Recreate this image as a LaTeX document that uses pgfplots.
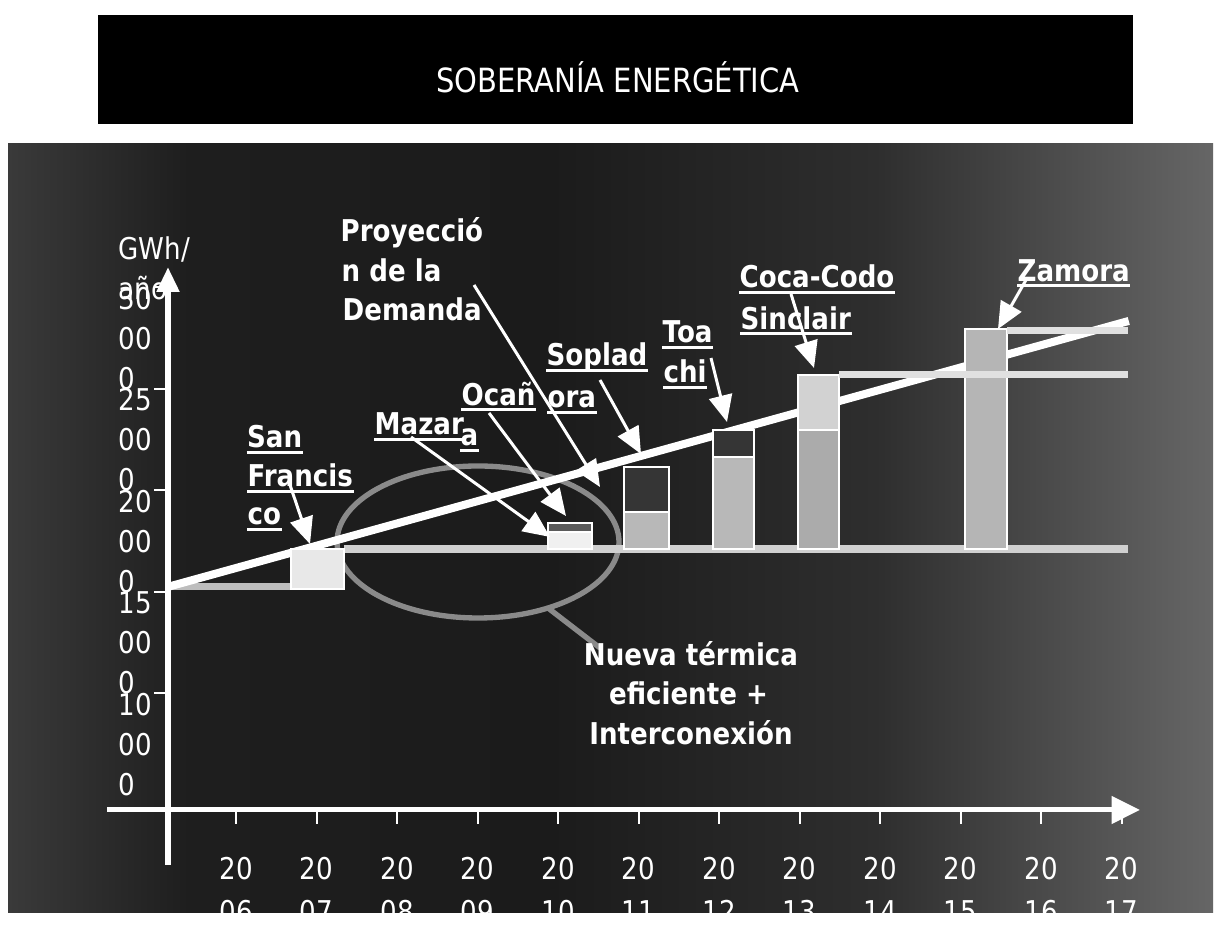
\documentclass[border=0pt]{standalone}
\usepackage{fontspec}
\setmainfont{DejaVu Sans}[FakeStretch=0.87]
\usepackage{pgfplots}
\pgfplotsset{compat=1.18}
\usetikzlibrary{arrows.meta}

\definecolor{pA}{HTML}{3A3A3A}
\definecolor{pB}{HTML}{1E1E1E}
\definecolor{pC}{HTML}{1B1B1B}
\definecolor{pD}{HTML}{2E2E2E}
\definecolor{pE}{HTML}{666666}
\definecolor{bandA}{HTML}{BDBDBD}
\definecolor{bandB}{HTML}{D0D0D0}
\definecolor{bandC}{HTML}{E0E0E0}
\definecolor{ellgray}{HTML}{8A8A8A}
\definecolor{sfcol}{HTML}{E8E8E8}
\definecolor{mzcol}{HTML}{F0F0F0}
\definecolor{occol}{HTML}{5A5A5A}
\definecolor{lowcol}{HTML}{B8B8B8}
\definecolor{darkcol}{HTML}{353535}
\definecolor{cclow}{HTML}{ABABAB}
\definecolor{cctop}{HTML}{D2D2D2}
\definecolor{zacol}{HTML}{B5B5B5}

\pgfdeclarehorizontalshading{panelsh}{100bp}{color(0bp)=(pA); color(25bp)=(pA); color(32.5bp)=(pB); color(47.5bp)=(pC); color(61bp)=(pD); color(75bp)=(pE); color(100bp)=(pE)}

\newcommand{\reg}{\fontsize{9}{12}\selectfont}
\newcommand{\lbl}{\fontsize{9}{12}\selectfont\bfseries}
\newcommand{\titlefont}{\fontsize{10}{12}\selectfont}

\tikzset{lab/.style={text=white, font=\lbl, inner sep=0pt},
  arw/.style={white, line width=0.9pt, -{Triangle[length=8pt,width=7pt]}}}
\newcommand{\ul}[3]{\node[lab, anchor=base west] (u) at (#1,#2) {#3};
  \draw[white, line width=0.9pt] ([yshift=-1.3pt]u.base west) -- ([yshift=-1.3pt]u.base east);}

\begin{document}
\begin{tikzpicture}
\begin{scope}[x=0.3pt,y=-0.3pt]
\path[use as bounding box] (0,0) rectangle (1216,926);
\fill[white] (0,0) rectangle (1216,926);
\fill[black] (98,15) rectangle (1133,124);
\node[text=white, font=\titlefont, anchor=base, inner sep=0pt] at (618,93) {SOBERANÍA ENERGÉTICA};
\shade[shading=panelsh] (8,144) rectangle (1213,913);
\draw[ellgray, line width=1.6pt] (478,542) ellipse [x radius=141, y radius=76];
\draw[ellgray, line width=1.6pt] (548,608) -- (600,648);
\end{scope}

\begin{axis}[
  at={(50.4pt,-243pt)}, anchor=south west,
  scale only axis, width=290.88pt, height=156.75pt,
  xmin=2005.155, xmax=2017.2, ymin=4236, ymax=30000,
  clip=false,
  axis line style={draw=none},
  xtick={2006,2007,2008,2009,2010,2011,2012,2013,2014,2015,2016,2017},
  xticklabels={20\\06,20\\07,20\\08,20\\09,20\\10,20\\11,20\\12,20\\13,20\\14,20\\15,20\\16,20\\17},
  ytick={10000,15000,20000,25000,30000},
  yticklabels={10\\00\\0,15\\00\\0,20\\00\\0,25\\00\\0,30\\00\\0},
  scaled ticks=false,
  xtick pos=left, ytick pos=left,
  tick align=outside, major tick length=4.2pt,
  tick style={white, line width=0.6pt},
  xticklabel style={anchor=north, align=center, inner sep=0pt, text=white, font=\fontsize{9}{12.9}\selectfont, yshift=-9.9pt},
  yticklabel style={anchor=north west, align=left, inner sep=0pt, text=white, font=\reg, xshift=-10.8pt, yshift=0.3pt},
]
% existing supply bands
\addplot[draw=bandA, line width=2.1pt] coordinates {(2005.155,15250) (2006.68,15250)};
\addplot[draw=bandB, line width=2.4pt] coordinates {(2007.34,17100) (2017.08,17100)};
% demand projection
\addplot[draw=white, line width=2.4pt] coordinates {(2005.155,15240) (2017.09,28350)};
% San Francisco
\addplot[fill=sfcol, draw=white, line width=0.6pt] coordinates {(2006.68,15150) (2007.34,15150) (2007.34,17100) (2006.68,17100)} -- cycle;
% Mazar + Ocana
\addplot[fill=mzcol, draw=white, line width=0.6pt] coordinates {(2009.88,17100) (2010.42,17100) (2010.42,17944) (2009.88,17944)} -- cycle;
\addplot[fill=occol, draw=white, line width=0.6pt] coordinates {(2009.88,17944) (2010.42,17944) (2010.42,18390) (2009.88,18390)} -- cycle;
% Sopladora
\addplot[fill=lowcol, draw=white, line width=0.6pt] coordinates {(2010.82,17100) (2011.38,17100) (2011.38,18930) (2010.82,18930)} -- cycle;
\addplot[fill=darkcol, draw=white, line width=0.6pt] coordinates {(2010.82,18930) (2011.38,18930) (2011.38,21150) (2010.82,21150)} -- cycle;
% Toachi
\addplot[fill=lowcol, draw=white, line width=0.6pt] coordinates {(2011.93,17100) (2012.43,17100) (2012.43,21640) (2011.93,21640)} -- cycle;
\addplot[fill=darkcol, draw=white, line width=0.6pt] coordinates {(2011.93,21640) (2012.43,21640) (2012.43,22970) (2011.93,22970)} -- cycle;
% Coca-Codo Sinclair
\addplot[fill=cclow, draw=white, line width=0.6pt] coordinates {(2012.98,17100) (2013.49,17100) (2013.49,22970) (2012.98,22970)} -- cycle;
\addplot[fill=cctop, draw=white, line width=0.6pt] coordinates {(2012.98,22970) (2013.49,22970) (2013.49,25690) (2012.98,25690)} -- cycle;
% Zamora
\addplot[fill=zacol, draw=white, line width=0.6pt] coordinates {(2015.06,17100) (2015.58,17100) (2015.58,27950) (2015.06,27950)} -- cycle;
% capacity levels after Coca-Codo and Zamora
\addplot[draw=bandC, line width=2.1pt] coordinates {(2013.49,25700) (2017.08,25700)};
\addplot[draw=bandC, line width=2.1pt] coordinates {(2015.58,27900) (2017.08,27900)};
% axis arrows
\draw[white, line width=1.5pt, -{Triangle[length=8.5pt,width=8pt]}] (axis cs:2004.4,4236) -- (axis cs:2017.23,4236);
\draw[white, line width=1.8pt, -{Triangle[length=7.5pt,width=6.5pt]}] (axis cs:2005.155,1524) -- (axis cs:2005.155,31011);
\end{axis}

\begin{scope}[x=0.3pt,y=-0.3pt]
\node[text=white, font=\reg, inner sep=0pt, anchor=base west] at (118,260) {GWh/};
\node[text=white, font=\reg, inner sep=0pt, anchor=base west] at (118,300) {año};
\node[lab, anchor=base west] at (340,241.5) {Proyecció};
\node[lab, anchor=base west] at (341,281.5) {n de la};
\node[lab, anchor=base west] at (342,321) {Demanda};
\ul{246.5}{447.7}{San}
\ul{247}{487}{Francis}
\ul{247}{525}{co}
\ul{374}{435}{Mazar}
\ul{460}{446}{a}
\ul{461}{405.5}{Ocañ}
\ul{546}{366}{Soplad}
\ul{547}{408}{ora}
\ul{662}{343}{Toa}
\ul{663}{383}{chi}
\ul{739}{288}{Coca-Codo}
\ul{740}{329.5}{Sinclair}
\ul{1017}{281.5}{Zamora}
\node[lab, anchor=base] at (691,666) {Nueva térmica};
\node[lab, anchor=base] at (688.5,705) {eficiente +};
\node[lab, anchor=base] at (691,745) {Interconexión};
\draw[arw] (290,485) -- (310,544);
\draw[arw] (411,437) -- (550,537);
\draw[arw] (489,413) -- (566,516);
\draw[arw] (474,285) -- (600,487);
\draw[arw] (600,380) -- (641,454);
\draw[arw] (711,358) -- (727,422);
\draw[arw] (791,294) -- (814,368);
\draw[arw] (1026,280) -- (998,329);
\fill[white] (0,913) rectangle (1216,926);
\end{scope}
\end{tikzpicture}
\end{document}
